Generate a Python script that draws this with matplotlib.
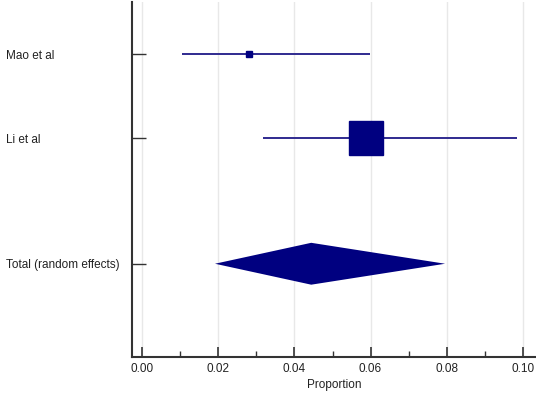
import matplotlib
matplotlib.use("Agg")
import matplotlib.pyplot as plt
import numpy as np

plt.rcParams['font.family'] = ['Liberation Sans', 'DejaVu Sans']

studies = ["Mao et al", "Li et al"]
study_est = [0.028, 0.0587]
study_lo = [0.0105, 0.0318]
study_hi = [0.0599, 0.0984]
study_weight = [4.5, 95.5]

total_label = "Total (random effects)"
total_est = 0.0444
total_lo = 0.0191
total_hi = 0.0796

xticks = [0.00, 0.02, 0.04, 0.06, 0.08, 0.10]
xlabel = "Proportion"

navy = "#000080"
line_col = "#2f2a8f"

fig = plt.figure(figsize=(5.36, 3.95), dpi=100)
ax = fig.add_axes([131.7 / 536, 1 - 357.3 / 395, 1 - 131.7 / 536, (357.3 - 2) / 395])

ypos = [0, 1]
ytot = 2.5

for y, e, lo, hi, w in zip(ypos, study_est, study_lo, study_hi, study_weight):
    ax.plot([lo, hi], [y, y], color=line_col, lw=1.4, zorder=3, solid_capstyle='butt')
    ms = 4.6 + (23.8 - 4.6) * (w - 4.5) / (95.5 - 4.5)
    ax.plot([e], [y], marker='s', ms=ms, color=navy, mec=navy, zorder=4)

h = 0.25
ax.fill([total_lo, total_est, total_hi, total_est],
        [ytot, ytot - h, ytot, ytot + h], color=navy, lw=0, zorder=4)

ax.set_xlim(-0.0028, 0.1035)
ax.set_ylim(3.617, -0.625)

ax.set_xticks(xticks)
ax.set_xticklabels([f"{t:.2f}" for t in xticks])
ax.set_xticks(np.arange(0.01, 0.1, 0.02), minor=True)
ax.set_yticks(ypos + [ytot])
ax.set_yticklabels(studies + [total_label], ha='left')

ax.tick_params(axis='x', which='major', direction='in', length=7, width=1.2,
               color='#333333', labelsize=8.5, pad=4, labelcolor='#222222')
ax.tick_params(axis='x', which='minor', direction='in', length=4, width=1.0, color='#333333')
ax.tick_params(axis='y', direction='in', length=10, width=1.0, color='#333333',
               labelsize=8.5, pad=90.5, labelcolor='#222222')

for s in ['top', 'right']:
    ax.spines[s].set_visible(False)
for s in ['left', 'bottom']:
    ax.spines[s].set_color('#333333')
    ax.spines[s].set_linewidth(1.5)

ax.grid(axis='x', which='major', color='#e8e8e8', lw=1.0, zorder=0)
ax.set_axisbelow(True)

ax.set_xlabel(xlabel, fontsize=8.5, color='#222222', labelpad=3)

fig.savefig("out.png", dpi=100)
